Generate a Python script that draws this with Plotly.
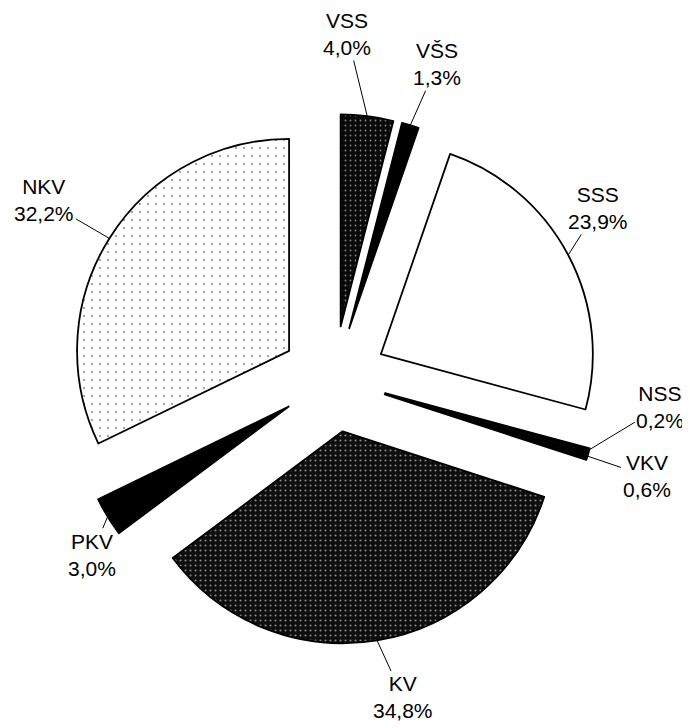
import math
import plotly.graph_objects as go

# ---- data ----
categories = ["VSS", "VŠS", "SSS", "NSS", "VKV", "KV", "PKV", "NKV"]
shares = [4.0, 1.3, 23.9, 0.2, 0.6, 34.8, 3.0, 32.2]

# ---- styles ----
fill_colors = ["#0a0a0a", "#000000", "#ffffff", "#000000", "#000000", "#0e0e0e", "#000000", "#ffffff"]
pattern_shapes = [".", "", "", "", "", ".", "", "."]
pattern_fg = ["#ffffff", "#000000", "#000000", "#000000", "#000000", "#ffffff", "#000000", "#222222"]
pattern_size = [5, 6, 6, 6, 6, 5, 6, 8]
pattern_solidity = [0.1, 0.3, 0.3, 0.3, 0.3, 0.14, 0.3, 0.06]
PULL = 0.25
FONT = "Liberation Sans, Arial, sans-serif"

# label offsets (pixels) from the outer arc point of each slice
label_dx = [-20, 27, 30, 71, 59, 26, -16, -65]
label_dy = [-82, -61, -47, -43, 20, 57, 38, -38]

fig = go.Figure(go.Pie(
    labels=categories,
    values=shares,
    sort=False,
    direction="clockwise",
    rotation=0,
    pull=[PULL] * len(shares),
    textinfo="none",
    hoverinfo="label+percent",
    showlegend=False,
    marker=dict(
        colors=fill_colors,
        line=dict(color="#000000", width=1.8),
        pattern=dict(
            shape=pattern_shapes,
            fgcolor=pattern_fg,
            size=pattern_size,
            solidity=pattern_solidity,
            fillmode="overlay",
        ),
    ),
))

# leader-line labels computed from the slice angles
total = sum(shares)
cum = 0.0
annotations = []
for i, (cat, v) in enumerate(zip(categories, shares)):
    mid = (cum + v / 2) / total * 2 * math.pi
    cum += v
    x = 0.5 + 0.5 * math.sin(mid)
    y = 0.5 + 0.5 * math.cos(mid)
    txt = f"{cat}<br>{v:.1f}".replace(".", ",") + "%"
    annotations.append(dict(
        x=x, y=y, xref="paper", yref="paper",
        text=txt, showarrow=True, arrowhead=0, arrowwidth=1,
        arrowcolor="#000000", ax=label_dx[i], ay=label_dy[i],
        standoff=0, startstandoff=0,
        font=dict(family=FONT, size=21, color="#000000"),
        align="center",
    ))

fig.update_layout(
    width=690, height=728,
    margin=dict(l=61, r=99, t=106, b=92),
    paper_bgcolor="#ffffff",
    plot_bgcolor="#ffffff",
    annotations=annotations,
    font=dict(family=FONT),
)

fig.write_html("out.html")
